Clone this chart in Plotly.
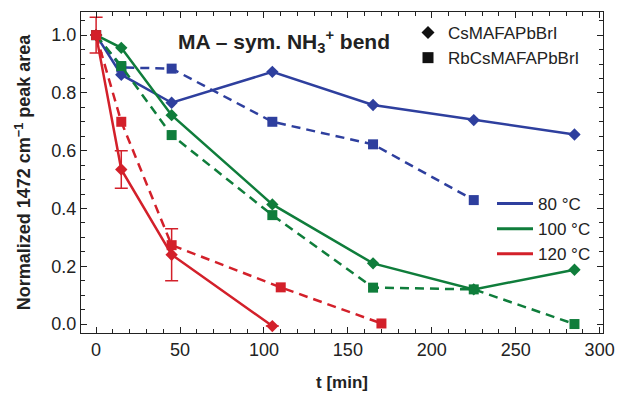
import plotly.graph_objects as go

# ---- data ----
t_cs_80 = [0, 15, 45, 105, 165, 225, 285]
y_cs_80 = [1.0, 0.863, 0.766, 0.873, 0.758, 0.706, 0.656]
t_rb_80 = [0, 15, 45, 105, 165, 225]
y_rb_80 = [1.0, 0.888, 0.884, 0.700, 0.622, 0.429]

t_cs_100 = [0, 15, 45, 105, 165, 225, 285]
y_cs_100 = [1.0, 0.956, 0.723, 0.414, 0.210, 0.120, 0.188]
t_rb_100 = [0, 15, 45, 105, 165, 225, 285]
y_rb_100 = [1.0, 0.893, 0.654, 0.377, 0.126, 0.120, 0.0]

t_cs_120 = [0, 15, 45, 105]
y_cs_120 = [1.0, 0.535, 0.240, -0.007]
err_cs_120 = [0.062, 0.065, 0.090, 0.0]
t_rb_120 = [0, 15, 45, 110, 170]
y_rb_120 = [1.0, 0.700, 0.273, 0.127, 0.002]

sample_names = ["CsMAFAPbBrI", "RbCsMAFAPbBrI"]
temp_names = ["80 °C", "100 °C", "120 °C"]
colors = ["#2e3f9e", "#0f7d3b", "#d3202a"]

x_ticks = [0, 50, 100, 150, 200, 250, 300]
y_ticks = [0.0, 0.2, 0.4, 0.6, 0.8, 1.0]

FONT = "Liberation Sans, Arial, sans-serif"
TXT = "#222222"

fig = go.Figure()

series = [
    (t_cs_80, y_cs_80, t_rb_80, y_rb_80, colors[0], None),
    (t_cs_100, y_cs_100, t_rb_100, y_rb_100, colors[1], None),
    (t_cs_120, y_cs_120, t_rb_120, y_rb_120, colors[2], err_cs_120),
]

for tc, yc, tr, yr, col, err in series:
    fig.add_trace(go.Scatter(
        x=tr, y=yr, mode="lines+markers",
        line=dict(color=col, width=2.5, dash="9px,6px"),
        marker=dict(symbol="square", size=10, color=col),
        showlegend=False,
    ))
    fig.add_trace(go.Scatter(
        x=tc, y=yc, mode="lines+markers",
        line=dict(color=col, width=2.5),
        marker=dict(symbol="diamond", size=9.5, color=col),
        error_y=dict(type="data", array=err, color=col, thickness=1.5, width=6.5)
        if err is not None else None,
        showlegend=False,
    ))

# legend 1: sample markers
for sym, name in zip(["diamond", "square"], sample_names):
    fig.add_trace(go.Scatter(
        x=[None], y=[None], mode="markers", name=name,
        marker=dict(symbol=sym, size=10 if sym == "diamond" else 11, color="#111111"),
        legend="legend",
    ))
# legend 2: temperatures
for col, name in zip(colors, temp_names):
    fig.add_trace(go.Scatter(
        x=[None], y=[None], mode="lines", name=name,
        line=dict(color=col, width=3),
        legend="legend2",
    ))

axis_common = dict(
    showline=True, linecolor=TXT, linewidth=1.4, mirror="ticks",
    ticks="inside", ticklen=6, tickwidth=1.2, tickcolor=TXT,
    showgrid=False, zeroline=False, automargin=False,
    tickfont=dict(family=FONT, size=18, color=TXT),
)

fig.update_xaxes(
    range=[-9, 302], tickvals=x_ticks,
    minor=dict(dtick=10, tick0=0, ticks="inside", ticklen=4, tickcolor=TXT, tickwidth=1),
    title=dict(text="<b>t [min]</b>", font=dict(family=FONT, size=17, color=TXT), standoff=17),
    **axis_common,
)
fig.update_yaxes(
    range=[-0.031, 1.08], tickvals=y_ticks, tickformat=".1f",
    minor=dict(dtick=0.05, tick0=0, ticks="inside", ticklen=4, tickcolor=TXT, tickwidth=1),
    title=dict(text="<b>Normalized 1472 cm<sup>−1</sup> peak area</b>",
               font=dict(family=FONT, size=18, color=TXT), standoff=15),
    **axis_common,
)

fig.add_annotation(
    text="<b>MA – sym. NH<sub>3</sub><sup>+</sup> bend</b>",
    xref="paper", yref="paper", x=(176 - 81) / 522, y=(321 - 29) / 321,
    xanchor="left", yanchor="middle", showarrow=False,
    font=dict(family=FONT, size=21, color=TXT),
)

fig.update_layout(
    width=619, height=398,
    margin=dict(l=81, r=16, t=12, b=65, autoexpand=False),
    paper_bgcolor="white", plot_bgcolor="white",
    font=dict(family=FONT, size=16, color=TXT),
    legend=dict(x=(408 - 81) / 522, y=(321 - 3) / 321, xanchor="left", yanchor="top",
                bgcolor="rgba(0,0,0,0)", font=dict(family=FONT, size=17, color=TXT),
                tracegroupgap=0, itemwidth=30),
    legend2=dict(x=(492 - 81) / 522, y=(321 - 174) / 321, xanchor="left", yanchor="top",
                 bgcolor="rgba(0,0,0,0)", font=dict(family=FONT, size=17, color=TXT),
                 tracegroupgap=0, itemwidth=36),
)

fig.write_html("out.html")
